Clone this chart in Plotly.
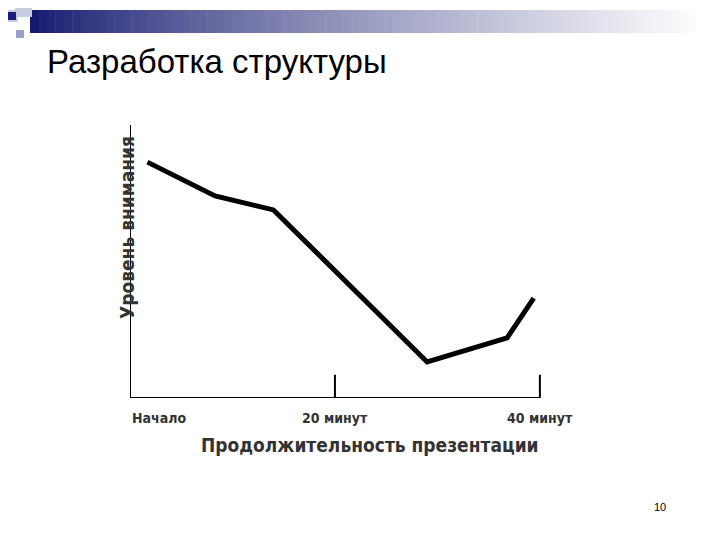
import plotly.graph_objects as go

# attention level (0-100) over presentation time (minutes)
minutes = [1.7, 8.3, 14.0, 29.0, 36.8, 39.4]
attention = [86.4, 74.0, 68.9, 13.2, 22.0, 36.6]
tick_pos = [0, 20, 40]
tick_text = ["Начало", "20 минут", "40 минут"]

W, H = 720, 540
OFF = 8  # page body margin
def px(v):
    return (v - OFF) / W
def py(v):
    return 1 - (v - OFF) / H

fig = go.Figure(go.Scatter(x=minutes, y=attention, mode="lines",
                           line=dict(color="black", width=5), hoverinfo="skip"))

narrow = "Liberation Sans Narrow, Arial Narrow, DejaVu Sans Condensed, sans-serif"
shapes = []
# gradient header bar
n = 80
x0, x1 = 30, 705
for i in range(n):
    t = i / (n - 1)
    c0, c1 = (20, 25, 110), (255, 255, 255)
    col = tuple(int(a + (b - a) * t ** 0.8) for a, b in zip(c0, c1))
    xa = x0 + (x1 - x0) * i / n
    xb = x0 + (x1 - x0) * (i + 1) / n + 0.5
    shapes.append(dict(type="rect", xref="paper", yref="paper",
                       x0=px(xa), x1=px(xb), y0=py(33), y1=py(10),
                       line_width=0, fillcolor=f"rgb{col}", layer="below"))
# decorative squares
for (sx, sy, sz, col) in [(15, 0, 17, "#c8cce0"), (30, 0, 8, "#d6d9e8"),
                          (6, 10, 12, "#c8cce0"), (8, 12, 8, "#1a1f7a"),
                          (16, 30, 8, "#9aa0c8")]:
    shapes.append(dict(type="rect", xref="paper", yref="paper",
                       x0=px(sx), x1=px(sx + sz), y0=py(sy + sz), y1=py(sy),
                       line_width=0, fillcolor=col))
# axes
shapes.append(dict(type="line", xref="x", yref="y", x0=0, x1=0, y0=0, y1=100,
                   line=dict(color="black", width=2)))
shapes.append(dict(type="line", xref="x", yref="y", x0=0, x1=40, y0=0, y1=0,
                   line=dict(color="black", width=2)))
for tp in tick_pos[1:]:
    shapes.append(dict(type="line", xref="x", yref="y", x0=tp, x1=tp, y0=0, y1=8.5,
                       line=dict(color="black", width=2)))

ann = [
    dict(text="Разработка структуры", x=px(45), y=py(62), xanchor="left",
         yanchor="middle", font=dict(size=33, color="black",
                                     family="Liberation Sans, Arial, sans-serif")),
    dict(text="<b>Уровень внимания</b>", x=px(114), y=py(228), textangle=-90,
         font=dict(size=19, color="#333", family=narrow)),
    dict(text="<b>Продолжительность презентации</b>", x=px(370), y=py(458),
         font=dict(size=19, color="#333", family=narrow)),
    dict(text="10", x=px(668), y=py(515),
         font=dict(size=11, color="black", family="Liberation Sans, Arial")),
]
for tp, tt in zip(tick_pos, tick_text):
    ann.append(dict(text="<b>" + tt + "</b>", x=tp, y=0, xref="x", yref="y", yshift=-20,
                    xanchor="left" if tp == 0 else "center",
                    font=dict(size=14, color="#333", family=narrow)))
for a in ann:
    a.setdefault("xref", "paper")
    a.setdefault("yref", "paper")
    a["showarrow"] = False

fig.update_layout(
    width=W, height=H, margin=dict(l=0, r=0, t=0, b=0),
    paper_bgcolor="white", plot_bgcolor="white", showlegend=False,
    xaxis=dict(domain=[px(130), px(545)], range=[0, 40.5], visible=False),
    yaxis=dict(domain=[py(398), py(125)], range=[0, 100], visible=False),
    shapes=shapes, annotations=ann,
)
fig.write_html("out.html")
